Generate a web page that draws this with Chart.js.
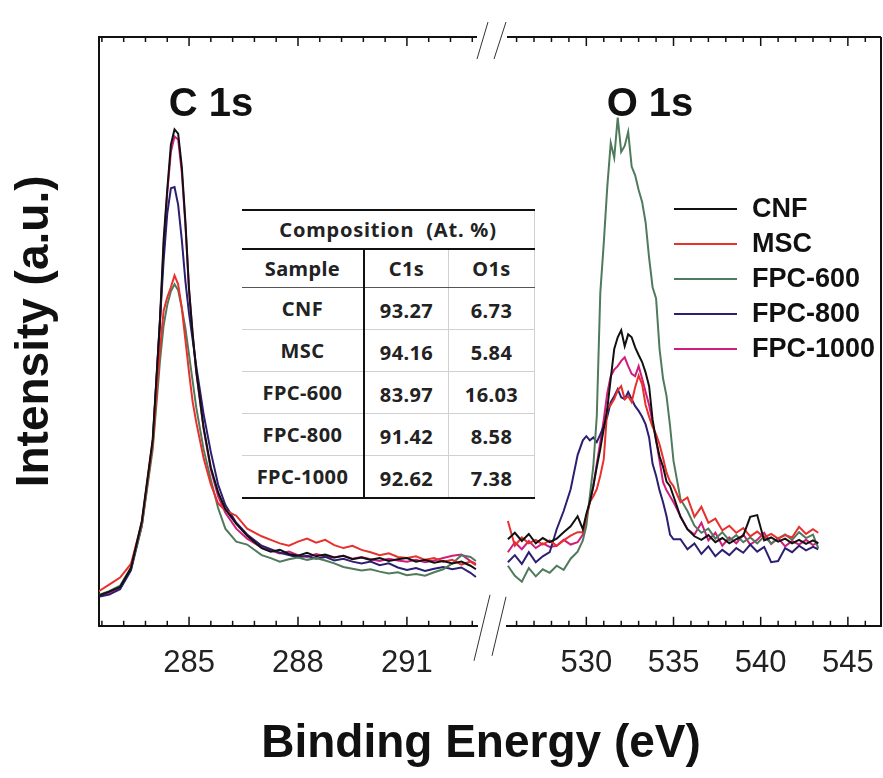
<!DOCTYPE html>
<html>
<head>
<meta charset="utf-8">
<script src="https://cdn.jsdelivr.net/npm/chart.js@4.4.1/dist/chart.umd.min.js"></script>
<style>
  body { margin: 0; background: #fff; }
  #wrap { position: relative; width: 883px; height: 778px; }
  canvas { position: absolute; left: 0; top: 0; }
  .peak { position: absolute; transform: translate(-50%, -50%); font: bold 40px 'Liberation Sans', Arial, sans-serif; color: #111; line-height: 1; white-space: nowrap; }
  #legend { position: absolute; left: 674px; top: 191px; font: bold 27px 'Liberation Sans', Arial, sans-serif; color: #111; }
  #legend .row { height: 35px; display: flex; align-items: center; }
  #legend .ln { width: 63px; height: 2px; margin-right: 15px; }
  #comp { position: absolute; left: 242px; top: 209px; border-collapse: collapse; font: bold 20px 'Noto Sans', sans-serif; color: #222; background: #fff; }
  #comp td { text-align: center; height: 37px; padding: 0; border-bottom: 1px solid #d0d0d0; border-right: 1px solid #d0d0d0; letter-spacing: 0.4px; }
  #comp td:first-child { width: 121px; border-right: 2px solid #111; }
  #comp td:nth-child(2) { width: 83px; }
  #comp td:nth-child(3) { width: 85px; }
  #comp td.num { padding-top: 4px; }
  #comp tr.head td { border-top: 2px solid #111; border-bottom: 2px solid #111; border-right: 1px solid #d0d0d0; letter-spacing: 0.8px; }
  #comp tr.cols td { border-bottom: 1px solid #555; }
  #comp tr:last-child td { border-bottom: 2px solid #111; }
</style>
</head>
<body>
<div id="wrap">
  <canvas id="xps" width="883" height="778"></canvas>
  <div class="peak" style="left:211px; top:102px;">C 1s</div>
  <div class="peak" style="left:650px; top:102px;">O 1s</div>
  <table id="comp"></table>
  <div id="legend"></div>
</div>
<script>
// binding energy grids (eV)
const cE = [282.5, 282.8, 283.1, 283.4, 283.7, 284.0, 284.2, 284.3, 284.4, 284.5, 284.6, 284.7, 284.8, 284.9, 285.0, 285.1, 285.2, 285.4, 285.6, 285.8, 286.0, 286.3, 286.6, 287.0,
  287.25, 287.5, 287.75, 288.0, 288.25, 288.5, 288.75, 289.0, 289.25, 289.5, 289.75, 290.0, 290.25, 290.5, 290.75, 291.0, 291.25, 291.5, 291.75, 292.0, 292.25, 292.5, 292.75, 292.9];
const oE = [525.5, 525.9, 526.3, 526.7, 527.1, 527.5, 527.9, 528.3, 528.7, 529.1, 529.5,
  529.8, 530.0, 530.2, 530.4, 530.6, 530.8, 531.0, 531.2, 531.4, 531.6, 531.8, 532.0, 532.2, 532.4, 532.6, 532.8, 533.0, 533.2, 533.4, 533.6, 533.8, 534.0, 534.2, 534.4, 534.6, 534.8, 535.0,
  535.4, 535.8, 536.2, 536.6, 537.0, 537.4, 537.8, 538.2, 538.6, 539.0, 539.4, 539.8, 540.2, 540.6, 541.0, 541.4, 541.8, 542.2, 542.6, 543.0, 543.3];

// intensities (a.u.), C 1s region
const cnfC = [5.1, 5.8, 6.6, 9.8, 17.8, 31.7, 52.0, 65.6, 74.1, 81.7, 84.3, 83.6, 78.0, 68.6, 57.1, 49.5, 43.2, 33.7, 26.9, 22.7, 19.8, 17.3, 15.3, 13.2,
  12.6, 12.9, 12.2, 11.9, 12.4, 11.8, 12.1, 11.6, 11.9, 11.3, 11.6, 11.2, 11.5, 11.0, 11.3, 11.5, 10.9, 11.2, 10.7, 11.0, 10.6, 10.9, 10.2, 9.6];
const mscC = [5.8, 7.0, 8.2, 10.5, 17.5, 31.0, 47.0, 53.5, 55.8, 57.5, 59.5, 58.0, 54.0, 48.5, 43.0, 38.0, 34.5, 28.5, 24.0, 20.8, 19.6, 18.7, 16.5, 15.2,
  14.6, 14.0, 13.6, 14.3, 14.8, 14.1, 14.6, 13.7, 13.2, 13.6, 12.9, 12.5, 12.0, 12.3, 11.7, 11.5, 11.8, 11.2, 11.5, 10.9, 11.2, 10.4, 10.9, 10.3];
const fpc600C = [5.2, 5.9, 6.8, 9.9, 17.0, 30.0, 45.0, 51.0, 54.5, 56.8, 58.0, 57.0, 54.0, 50.5, 46.0, 41.5, 37.0, 30.0, 24.8, 20.0, 16.5, 14.3, 13.8, 12.0,
  11.5, 10.9, 11.3, 11.6, 11.2, 11.5, 11.1, 10.6, 10.0, 9.7, 9.4, 9.6, 9.2, 8.9, 9.1, 8.6, 8.8, 8.5, 9.1, 9.6, 10.6, 12.0, 11.7, 11.0];
const fpc800C = [4.9, 5.3, 6.2, 9.4, 17.0, 31.0, 52.0, 62.0, 70.0, 74.3, 74.5, 71.5, 65.6, 58.5, 53.0, 48.5, 44.0, 36.0, 29.5, 24.0, 20.5, 17.5, 15.5, 13.6,
  13.0, 12.4, 12.0, 11.6, 11.9, 11.4, 11.7, 11.1, 11.4, 10.9, 10.6, 10.9, 10.3, 10.6, 9.9, 9.5, 9.8, 9.3, 9.7, 10.0, 9.6, 9.9, 9.0, 8.3];
const fpc1000C = [5.0, 5.6, 6.4, 9.6, 17.5, 31.5, 51.5, 64.5, 73.5, 80.5, 83.1, 82.6, 77.0, 68.0, 57.0, 49.5, 43.0, 33.5, 26.5, 22.0, 19.2, 16.5, 14.8, 13.3,
  12.8, 12.3, 12.6, 12.0, 11.7, 12.2, 11.8, 11.6, 11.9, 11.4, 11.7, 11.3, 11.0, 11.4, 11.1, 10.9, 11.2, 10.8, 11.1, 11.5, 11.9, 12.1, 11.0, 10.5];

// intensities (a.u.), O 1s region
const cnfO = [14.7, 15.8, 14.4, 15.6, 14.0, 14.9, 14.2, 14.8, 15.9, 16.9, 18.6,
  16.4, 19.0, 21.0, 23.7, 27.0, 30.0, 33.5, 36.8, 42.0, 47.0, 49.0, 50.2, 47.5, 49.5, 49.0, 47.3, 46.0, 44.8, 43.0, 40.7, 35.0, 31.5, 28.8, 27.0, 24.5, 23.7, 22.0,
  18.5, 16.4, 15.2, 14.6, 15.4, 14.2, 14.9, 14.0, 14.7, 15.3, 18.5, 18.8, 14.5, 15.0, 14.3, 14.8, 14.0, 14.6, 13.9, 14.5, 14.0];
const mscO = [17.8, 13.6, 15.0, 14.0, 14.6, 13.8, 14.5, 13.6, 14.5, 15.3, 15.9,
  15.9, 18.5, 21.0, 22.0, 23.2, 25.5, 28.3, 36.8, 37.5, 38.5, 40.0, 40.7, 38.5, 39.0, 38.0, 40.5, 42.5, 41.0, 37.5, 35.5, 33.8, 32.5, 30.8, 28.5, 26.0, 24.5, 23.7,
  21.0, 21.8, 18.5, 20.2, 17.5, 18.2, 16.2, 17.0, 15.8, 16.6, 15.2, 16.0, 15.0, 15.6, 14.8, 15.4, 15.0, 16.8, 15.6, 16.4, 15.8];
const fpc600O = [10.2, 8.5, 7.5, 9.8, 8.4, 9.6, 9.0, 10.2, 9.5, 11.4, 12.6,
  14.5, 17.0, 22.0, 27.1, 35.6, 56.5, 65.0, 74.5, 82.0, 79.5, 86.3, 80.5, 81.5, 83.9, 78.0, 76.5, 74.0, 72.0, 68.5, 62.5, 57.5, 55.6, 47.0, 42.0, 39.0, 34.0, 28.0,
  21.5, 19.5, 17.0, 15.8, 16.5, 14.8, 15.9, 14.5, 15.4, 14.2, 15.0, 14.0, 15.2, 14.0, 14.8, 15.5, 14.6, 15.9, 14.9, 15.5, 13.2];
const fpc800O = [10.8, 12.0, 10.5, 12.5, 10.8, 11.8, 12.5, 16.4, 19.5, 23.2, 29.0,
  31.5, 32.2, 31.5, 32.0, 31.2, 32.5, 33.9, 35.5, 38.0, 39.0, 40.2, 38.8, 38.5, 39.7, 38.5, 37.3, 36.5, 35.5, 34.2, 32.0, 27.5, 25.5, 23.0, 21.0, 18.6, 15.5, 14.7,
  14.7, 13.0, 14.0, 12.2, 13.5, 11.8, 12.9, 12.0, 13.2, 12.4, 13.8, 12.6, 13.4, 10.8, 11.0, 13.2, 12.5, 13.6, 12.8, 13.4, 13.0];
const fpc1000O = [12.5, 14.2, 13.0, 14.4, 13.2, 14.0, 13.4, 13.6, 14.6, 13.8, 14.2,
  15.5, 18.6, 21.0, 23.7, 27.5, 31.2, 35.0, 39.5, 42.4, 43.5, 44.1, 45.0, 45.6, 44.1, 42.8, 42.4, 44.1, 42.0, 39.7, 37.5, 34.5, 31.5, 28.0, 24.4, 23.0, 22.0, 21.0,
  18.6, 16.4, 15.5, 17.5, 14.5, 15.8, 13.6, 15.0, 14.0, 15.5, 13.8, 14.6, 15.8, 13.9, 14.9, 13.5, 14.4, 13.8, 14.6, 13.7, 14.2];

// tick values
const cTicks = [285, 288, 291];
const cMinor = [282.6, 283.2, 283.8, 284.4, 285.6, 286.2, 286.8, 287.4, 288.6, 289.2, 289.8, 290.4, 291.6, 292.2, 292.8];
const oTicks = [530, 535, 540, 545];
const oMinor = [526, 527, 528, 529, 531, 532, 533, 534, 536, 537, 538, 539, 541, 542, 543, 544, 546];

// composition table
const samples = ['CNF', 'MSC', 'FPC-600', 'FPC-800', 'FPC-1000'];
const c1sPct = ['93.27', '94.16', '83.97', '91.42', '92.62'];
const o1sPct = ['6.73', '5.84', '16.03', '8.58', '7.38'];

const colors = ['#111111', '#e8302c', '#4f7b5c', '#2c1f72', '#d01c7a'];
const cSeries = [cnfC, mscC, fpc600C, fpc800C, fpc1000C];
const oSeries = [cnfO, mscO, fpc600O, fpc800O, fpc1000O];

Chart.defaults.font.family = "'Liberation Sans', Arial, sans-serif";

const datasets = [];
samples.forEach((name, k) => {
  const base = { label: name, borderColor: colors[k], borderWidth: 2, pointRadius: 0, tension: 0, fill: false, yAxisID: 'y' };
  datasets.push(Object.assign({}, base, { xAxisID: 'xc', data: cE.map((e, i) => ({ x: e, y: cSeries[k][i] })) }));
  datasets.push(Object.assign({}, base, { xAxisID: 'xo', data: oE.map((e, i) => ({ x: e, y: oSeries[k][i] })) }));
});

// shrink the two stacked x scales to leave the axis break
const brokenAxis = {
  id: 'brokenAxis',
  afterLayout(chart) {
    const c = chart.scales.xc, o = chart.scales.xo;
    c.right -= 15; c.width = c.right - c.left; c.configure();
    o.left += 15; o.width = o.right - o.left; o.configure();
    if (chart.titleBlock) chart.titleBlock.left -= 18;
  },
  afterDraw(chart) {
    const { ctx, chartArea: a } = chart;
    const c = chart.scales.xc, o = chart.scales.xo;
    const line = (x1, y1, x2, y2) => { ctx.beginPath(); ctx.moveTo(x1, y1); ctx.lineTo(x2, y2); ctx.stroke(); };
    ctx.save();
    ctx.strokeStyle = '#111';
    ctx.lineWidth = 2;
    line(a.left, a.top, c.right, a.top);
    line(o.left, a.top, a.right, a.top);
    line(a.right, a.top, a.right, a.bottom);
    ctx.lineWidth = 1.5;
    [[c, cTicks, cMinor], [o, oTicks, oMinor]].forEach(([s, major, minor]) => {
      major.forEach(v => {
        const x = s.getPixelForValue(v);
        line(x, a.bottom, x, a.bottom - 9);
        line(x, a.top, x, a.top + 9);
      });
      minor.forEach(v => {
        const x = s.getPixelForValue(v);
        line(x, a.bottom, x, a.bottom - 5);
        line(x, a.top, x, a.top + 5);
      });
    });
    // break marks
    ctx.lineWidth = 1;
    ctx.strokeStyle = '#333';
    line(c.right - 3, a.bottom + 35, c.right + 13, a.bottom - 31);
    line(o.left - 15, a.bottom + 30, o.left - 1, a.bottom - 29);
    line(c.right, a.top + 22, c.right + 11, a.top - 15);
    line(o.left - 13, a.top + 22, o.left - 1, a.top - 15);
    ctx.restore();
  }
};

const fitX = s => { s.height = 91; s.paddingLeft = 0; s.paddingRight = 0; };
const xTicks = { font: { size: 31 }, color: '#222', padding: 11, maxRotation: 0, autoSkip: false };

new Chart(document.getElementById('xps'), {
  type: 'line',
  data: { datasets: datasets },
  options: {
    responsive: false,
    animation: false,
    layout: { padding: { top: 37, right: 2, left: 0, bottom: 0 } },
    scales: {
      xc: {
        type: 'linear', position: 'bottom', stack: 'be', stackWeight: 393,
        min: 282.52, max: 292.93,
        afterBuildTicks: s => { s.ticks = cTicks.map(v => ({ value: v })); },
        afterFit: fitX,
        grid: { display: false },
        border: { color: '#111', width: 2 },
        ticks: xTicks
      },
      xo: {
        type: 'linear', position: 'bottom', stack: 'be', stackWeight: 389,
        min: 525.45, max: 546.9,
        afterBuildTicks: s => { s.ticks = oTicks.map(v => ({ value: v })); },
        afterFit: fitX,
        grid: { display: false },
        border: { color: '#111', width: 2 },
        ticks: xTicks
      },
      y: {
        min: 0, max: 100,
        afterFit: s => { s.width = 99; s.paddingTop = 0; s.paddingBottom = 0; },
        ticks: { display: false },
        grid: { display: false },
        border: { color: '#111', width: 2 },
        title: { display: true, text: 'Intensity (a.u.)', color: '#111', font: { size: 46, weight: 'bold' }, padding: { top: 8, bottom: 0 } }
      }
    },
    plugins: {
      legend: { display: false },
      tooltip: { enabled: false },
      title: {
        display: true, position: 'bottom', fullSize: false,
        text: 'Binding Energy (eV)', color: '#111',
        font: { size: 46, weight: 'bold' },
        padding: { top: 0, bottom: 6 }
      }
    }
  },
  plugins: [brokenAxis]
});

// legend
const legend = document.getElementById('legend');
samples.forEach((name, k) => {
  const row = document.createElement('div');
  row.className = 'row';
  row.innerHTML = '<span class="ln" style="background:' + colors[k] + '"></span><span>' + name + '</span>';
  legend.appendChild(row);
});

// composition table
const table = document.getElementById('comp');
let html = '<tr class="head"><td colspan="3">Composition&nbsp; (At. %)</td></tr>';
html += '<tr class="cols"><td>Sample</td><td>C1s</td><td>O1s</td></tr>';
samples.forEach((name, k) => {
  html += '<tr><td>' + name + '</td><td class="num">' + c1sPct[k] + '</td><td class="num">' + o1sPct[k] + '</td></tr>';
});
table.innerHTML = html;
</script>
</body>
</html>
